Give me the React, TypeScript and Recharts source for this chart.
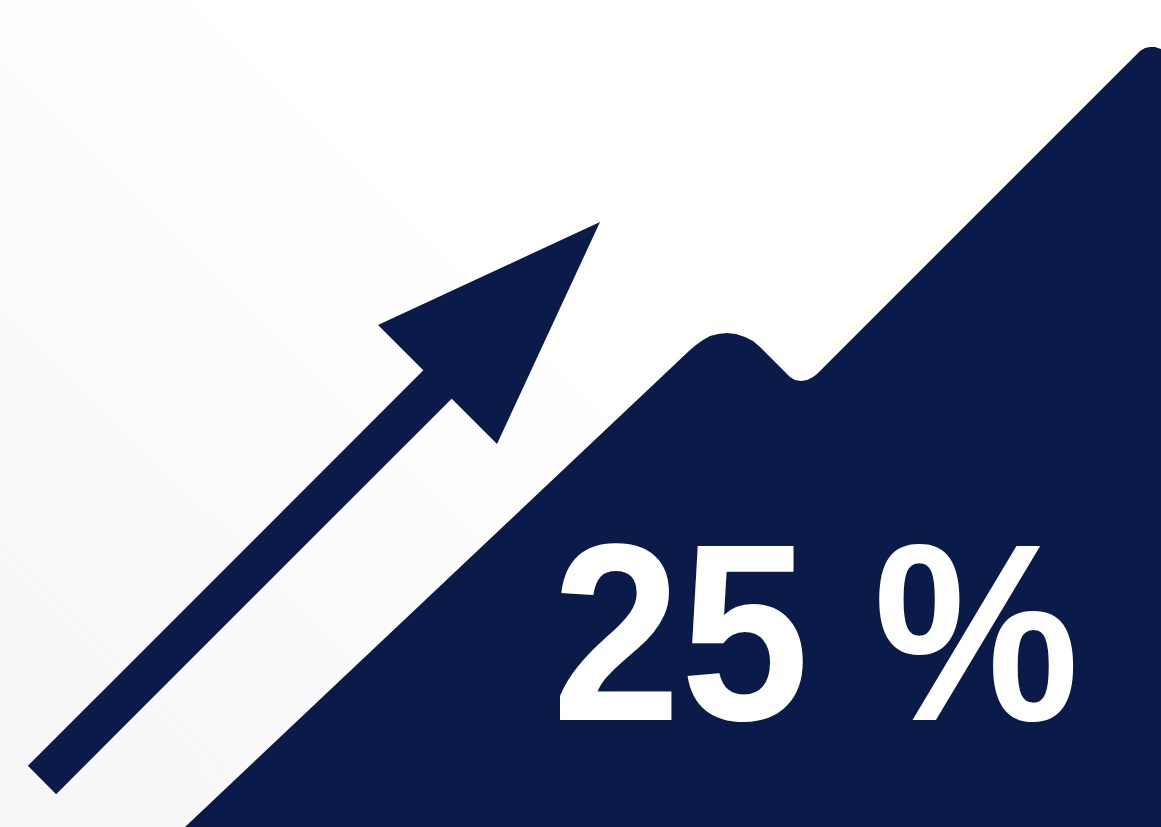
import { ComposedChart, Area, Line, Scatter, XAxis, YAxis } from 'recharts'

const NAVY = '#0a1b4a'
const W = 1161
const H = 827

// growth silhouette (x, height above bottom)
const growthX = [
  185, 690, 696, 703, 710, 718, 727, 736, 745, 753, 760, 785, 790, 795, 801, 807, 813, 817, 1128, 1134, 1140,
  1145, 1150, 1155, 1161,
]
const growthY = [
  0, 477, 482, 487, 491, 493, 494, 493, 490, 486, 480, 455, 450, 447, 446, 447, 450, 453, 764, 770, 776, 779,
  780, 780, 778,
]

// arrow shaft start/end and tip
const shaftX = [42, 443]
const shaftY = [47, 448]
const tipX = [600]
const tipY = [605]

// big label anchor
const labelX = [552]
const labelY = [107]
const LABEL = '25 %'

const growth = growthX.map((x, i) => ({ x, y: growthY[i] }))
const shaft = shaftX.map((x, i) => ({ x, y: shaftY[i] }))
const tip = tipX.map((x, i) => ({ x, y: tipY[i] }))
const label = labelX.map((x, i) => ({ x, y: labelY[i] }))

function ArrowHead(props: any) {
  const { cx, cy } = props
  const pts = [
    [cx, cy],
    [cx - 222, cy + 103],
    [cx - 103, cy + 222],
  ]
  return <polygon points={pts.map((p) => p.join(',')).join(' ')} fill={NAVY} />
}

function BigLabel(props: any) {
  const { cx, cy } = props
  return (
    <text
      x={cx}
      y={cy}
      fill="#ffffff"
      fontFamily="'Liberation Sans', Arial, sans-serif"
      fontWeight={700}
      fontSize={252}
      textLength={527}
      lengthAdjust="spacingAndGlyphs"
    >
      {LABEL}
    </text>
  )
}

export default function App() {
  return (
    <div
      style={{
        position: 'fixed',
        left: 0,
        top: 0,
        width: W,
        height: H,
        background: 'linear-gradient(45deg, #f6f6f6 0%, #fbfbfb 30%, #ffffff 55%)',
      }}
    >
      <ComposedChart width={W} height={H} margin={{ top: 0, right: 0, bottom: 0, left: 0 }}>
        <XAxis dataKey="x" type="number" domain={[0, W]} hide allowDataOverflow />
        <YAxis type="number" domain={[0, H]} hide allowDataOverflow />
        <Area
          data={growth}
          dataKey="y"
          type="linear"
          stroke="none"
          fill={NAVY}
          fillOpacity={1}
          isAnimationActive={false}
        />
        <Line
          data={shaft}
          dataKey="y"
          type="linear"
          stroke={NAVY}
          strokeWidth={40}
          dot={false}
          activeDot={false}
          isAnimationActive={false}
        />
        <Scatter data={tip} dataKey="y" shape={<ArrowHead />} isAnimationActive={false} />
        <Scatter data={label} dataKey="y" shape={<BigLabel />} isAnimationActive={false} />
      </ComposedChart>
    </div>
  )
}
